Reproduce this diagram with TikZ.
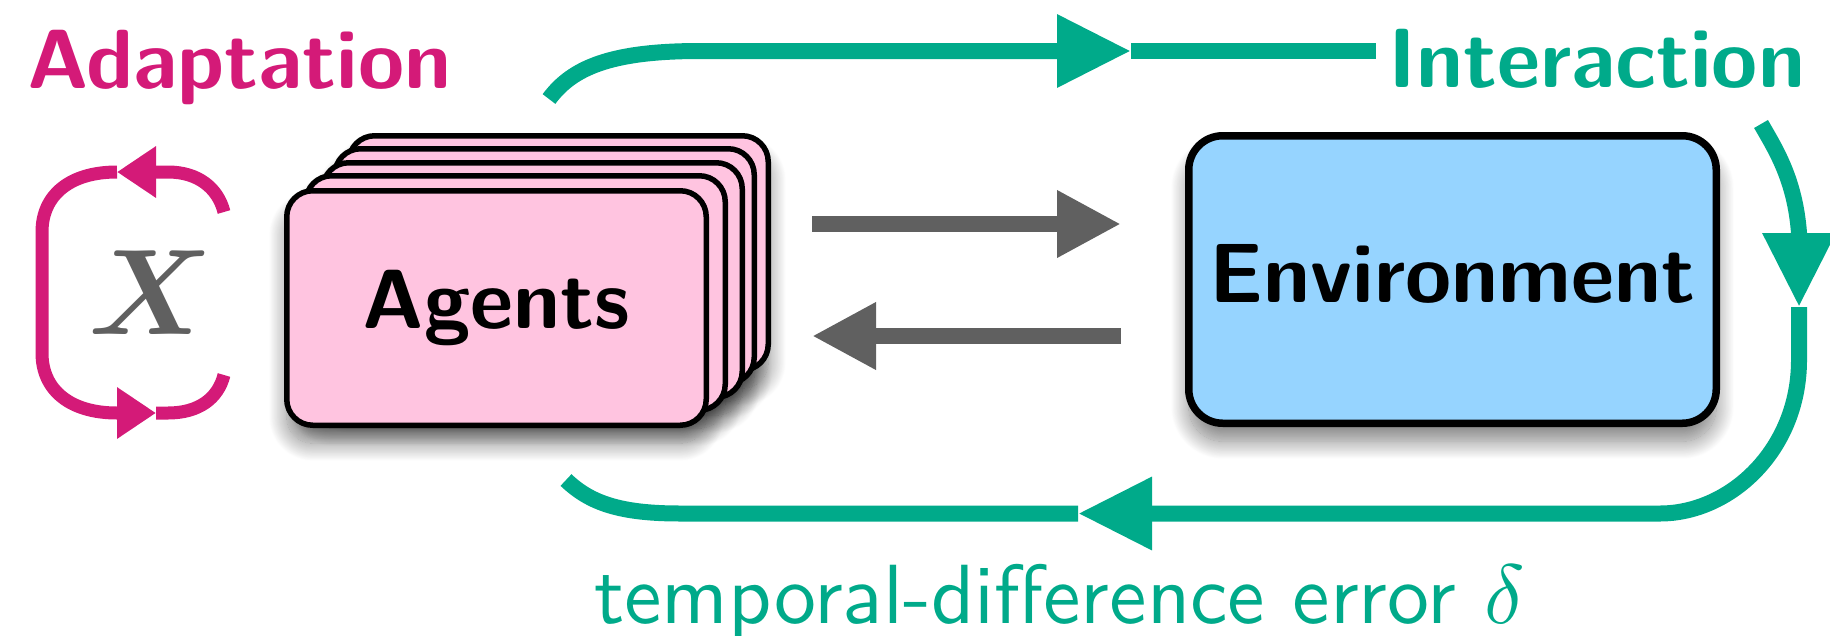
\RequirePackage{fix-cm}
\documentclass[tikz,border=0pt]{standalone}
\usepackage{fontspec}
\usetikzlibrary{arrows.meta,shadows.blur}

% regular sans in its 10pt design, scaled up
\newfontfamily\tdfont{lmsans10-regular.otf}
% math italic from the 10pt designs at every size
\DeclareFontFamily{OML}{cmmten}{\skewchar\font'177}
\DeclareFontShape{OML}{cmmten}{m}{it}{<->cmmi10}{}
\DeclareFontShape{OML}{cmmten}{b}{it}{<->cmmib10}{}
\DeclareSymbolFont{letters}{OML}{cmmten}{m}{it}

\definecolor{adapt}{RGB}{212,26,120}
\definecolor{inter}{RGB}{0,170,138}
\definecolor{flowgray}{RGB}{96,96,96}
\definecolor{agentfill}{RGB}{255,196,224}
\definecolor{envfill}{RGB}{150,212,255}

\begin{document}
\begin{tikzpicture}[x=1pt,y=-1pt,
  bigfont/.style={font=\sffamily\bfseries\fontsize{84}{84}\selectfont},
  card/.style={draw=black, line width=5.5pt, fill=agentfill, rounded corners=26pt,
    minimum width=419.5pt, minimum height=234.5pt, inner sep=0pt},
  envbox/.style={draw=black, line width=7.5pt, fill=envfill, rounded corners=34pt,
    minimum width=527.5pt, minimum height=287.5pt, inner sep=0pt},
  soft shadow/.style={blur shadow={shadow xshift=0pt, shadow yshift=-18pt,
    shadow blur radius=18pt, shadow blur steps=24, shadow opacity=50}},
  adaptline/.style={draw=adapt, line width=13pt},
  interline/.style={draw=inter, line width=16pt},
  flowline/.style={draw=flowgray, line width=16pt},
  adapttip/.style={-{Triangle[length=39pt,width=49pt]}},
  intertip/.style={-{Triangle[length=74pt,width=69pt]}},
  flowtip/.style={-{Triangle[length=64pt,width=63pt]}},
]
\useasboundingbox (0,0) rectangle (1830,635);

% shadows of the agent cards, drawn before any card
\foreach \dx/\dy in {62/-55,48/-42,36/-28,19/-15,0/0}
  \path[soft shadow, rounded corners=26pt]
    (286.75+\dx,190.75+\dy) rectangle (706.25+\dx,425.25+\dy);

% stack of agent cards, back to front
\foreach \dx/\dy/\n in {62/-55/4,48/-42/3,36/-28/2,19/-15/1}
  \node[card] (card\n) at (496.5+\dx,308+\dy) {};
\node[card, bigfont, text height=58pt, text depth=18pt] (agents) at (496.5,308) {Agents};

% environment
\node[envbox, bigfont, soft shadow, text height=58pt, text depth=12pt] (env)
  at (1452.5,279.5) {Environment};

% action / observation arrows
\coordinate (actS) at (812,224);
\coordinate (actE) at (1121,224);
\coordinate (obsS) at (1121,336);
\coordinate (obsE) at (812,336);
\draw[flowline, flowtip] (actS) -- (actE);
\draw[flowline, flowtip] (obsS) -- (obsE);

% adaptation loop around X
\coordinate (ad0) at (224,212);
\coordinate (ad1) at (117,172);
\coordinate (ad2) at (156,413);
\coordinate (ad3) at (224,375);
\draw[adaptline, adapttip] (ad0) .. controls (218,188) and (198,172) .. (168,172) -- (ad1);
\draw[adaptline, adapttip] (ad1) .. controls (70,172) and (42,195) .. (42,232) -- (42,353)
  .. controls (42,390) and (70,413) .. (117,413) -- (ad2);
\draw[adaptline] (ad2) -- (168,413) .. controls (198,413) and (218,399) .. (ad3);
\node[text=flowgray, font=\fontsize{122}{122}\usefont{OML}{cmmten}{b}{it}, inner sep=0pt]
  (xvar) at (146,293) {X};

% interaction loop
\coordinate (in0) at (549,99);
\coordinate (in1) at (1131,51);
\coordinate (in2) at (1376,51);
\coordinate (in3) at (1761,124);
\coordinate (in4) at (1799,307);
\coordinate (in5) at (1078,513.5);
\coordinate (in6) at (566,480);
\draw[interline, intertip] (in0) .. controls (572,68) and (610,51) .. (700,51) -- (in1);
\draw[interline] (in1) -- (in2);
\draw[interline, intertip] (in3) .. controls (1776,150) and (1795,180) .. (1799,233) -- (in4);
\draw[interline, intertip] (in4) -- (1799,360) .. controls (1799,450) and (1730,513.5)
  .. (1660,513.5) -- (in5);
\draw[interline] (in5) -- (680,513.5) .. controls (620,513.5) and (590,503) .. (in6);

% labels
\node[bigfont, text=adapt, anchor=base west, inner sep=0pt] (adaptlabel) at (27,88) {Adaptation};
\node[bigfont, text=inter, anchor=base west, inner sep=0pt] (interlabel) at (1388,87) {Interaction};
\node[font=\tdfont\fontsize{84}{84}\selectfont, text=inter, anchor=base west, inner sep=0pt]
  (tdlabel) at (594,623) {temporal-difference error \(\delta\)};
\end{tikzpicture}
\end{document}
